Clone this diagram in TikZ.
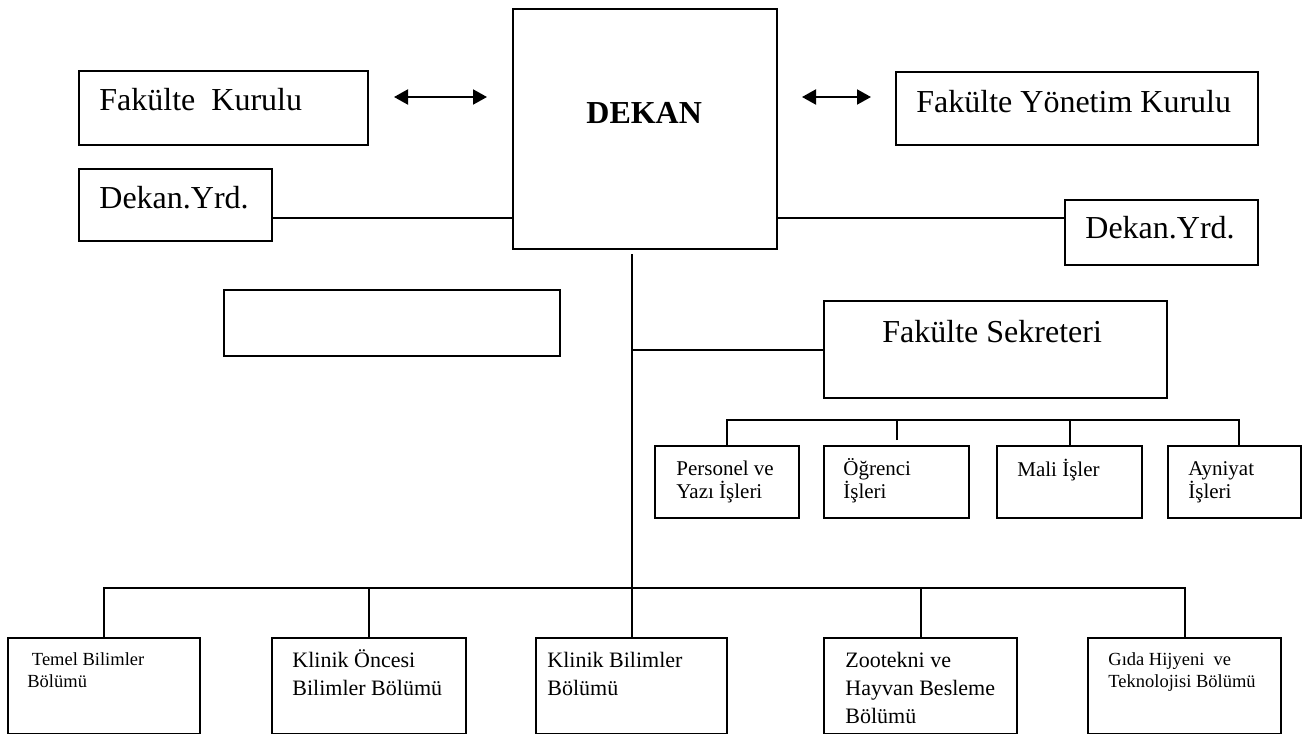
\documentclass[tikz,border=0pt]{standalone}
\usepackage{fontspec}
\setmainfont{Liberation Serif}
\usetikzlibrary{calc,positioning,arrows.meta}
\tikzset{
  kutu/.style={rectangle, draw=black, line width=1pt, anchor=north west, inner sep=0pt},
  yazi/.style={anchor=base west, inner sep=0pt, align=left},
  buyuk/.style={yazi, font=\fontsize{16}{19}\selectfont},
  orta/.style={yazi, font=\fontsize{10.5}{11.5}\selectfont},
  bolum/.style={yazi, font=\fontsize{11}{14}\selectfont},
  kucuk/.style={yazi, font=\fontsize{9.25}{10.75}\selectfont},
  hat/.style={draw, line width=1pt},
  cift/.style={draw, line width=1pt, {Triangle[length=7pt,width=7.5pt]}-{Triangle[length=7pt,width=7.5pt]}},
}

\begin{document}
\begin{tikzpicture}[x=0.5pt,y=-0.5pt]
  \useasboundingbox (0,0) rectangle (1314,734);
  % ust kisim
  \node[kutu, minimum width=132pt, minimum height=120pt] (dekan) at (512,8) {};
  \node[kutu, minimum width=144.5pt, minimum height=37pt] (fkurul) at (78,70) {};
  \node[kutu, minimum width=181pt, minimum height=36.5pt] (fyk) at (895,71) {};
  \node[kutu, minimum width=96.5pt, minimum height=36pt] (yrdsol) at (78,168) {};
  \node[kutu, minimum width=96.5pt, minimum height=32.5pt] (yrdsag) at (1064,199) {};
  \node[kutu, minimum width=168pt, minimum height=33pt] (bos) at (223,289) {};
  \node[kutu, minimum width=171.5pt, minimum height=48.5pt] (sekreter) at (823,300) {};
  \node[buyuk, font=\fontsize{16}{19}\selectfont\bfseries] (dekantxt) at (586,123) {DEKAN};
  \node[buyuk] (fkurultxt) at (99,110) {Fakülte\ \ Kurulu};
  \node[buyuk] (fyktxt) at (916,112) {Fakülte Yönetim Kurulu};
  \node[buyuk] (yrdsoltxt) at (99,208) {Dekan.Yrd.};
  \node[buyuk] (yrdsagtxt) at (1085,238) {Dekan.Yrd.};
  \node[buyuk] (sekretertxt) at (882,342) {Fakülte Sekreteri};
  % sekreterlik birimleri (base = son satir)
  \node[kutu, minimum width=72pt, minimum height=36pt] (p1) at (654,445) {};
  \node[kutu, minimum width=72.5pt, minimum height=36pt] (p2) at (823,445) {};
  \node[kutu, minimum width=72.5pt, minimum height=36pt] (p3) at (996,445) {};
  \node[kutu, minimum width=66.5pt, minimum height=36pt] (p4) at (1167,445) {};
  \node[orta] (p1txt) at (676,498) {Personel ve\\Yazı İşleri};
  \node[orta] (p2txt) at (843,498) {Öğrenci\\İşleri};
  \node[orta] (p3txt) at (1017,476) {Mali İşler};
  \node[orta] (p4txt) at (1188,498) {Ayniyat\\İşleri};
  % bolumler
  \node[kutu, minimum width=96pt, minimum height=48pt] (b1) at (7,637) {};
  \node[kutu, minimum width=97pt, minimum height=48pt] (b2) at (271,637) {};
  \node[kutu, minimum width=95.5pt, minimum height=48pt] (b3) at (535,637) {};
  \node[kutu, minimum width=96.5pt, minimum height=48pt] (b4) at (823,637) {};
  \node[kutu, minimum width=96.5pt, minimum height=48pt] (b5) at (1087,637) {};
  \node[kucuk] (b1txt) at (27,687) {\hspace*{2.3pt}Temel Bilimler\\Bölümü};
  \node[bolum] (b2txt) at (292,695) {Klinik Öncesi\\Bilimler Bölümü};
  \node[bolum] (b3txt) at (547,695) {Klinik Bilimler\\Bölümü};
  \node[bolum] (b4txt) at (845,723) {Zootekni ve\\Hayvan Besleme\\Bölümü};
  \node[kucuk] (b5txt) at (1108,687) {Gıda Hijyeni\ \ ve\\Teknolojisi Bölümü};
  % baglantilar
  \draw[cift, shorten <=12.5pt, shorten >=12.5pt] ([yshift=5.5pt]fkurul.east) -- ([yshift=5.5pt]fkurul.east -| dekan.west);
  \draw[cift, shorten <=12pt, shorten >=12pt] ([yshift=5.75pt]fyk.west -| dekan.east) -- ([yshift=5.75pt]fyk.west);
  \coordinate (yrdhat) at ([yshift=12pt]yrdsol.south east);
  \draw[hat] (yrdhat) -- (yrdhat -| dekan.west);
  \draw[hat] (yrdhat -| dekan.east) -- (yrdhat -| yrdsag.west);
  \draw[hat] ([yshift=-2pt]dekan.south -| b3.north) -- (b3.north);
  \draw[hat] (sekreter.west -| b3.north) -- (sekreter.west);
  \coordinate (bus) at ([yshift=24.5pt]b1.north);
  \draw[hat] (b1.north) -- (bus) -| (b5.north);
  \foreach \k in {b2,b4} \draw[hat] (\k.north) -- (\k.north |- bus);
  \coordinate (altbus) at ([yshift=12.5pt]p1.north);
  \draw[hat] (p1.north) -- (altbus) -| ([xshift=2pt]p4.north);
  \draw[hat] (p3.north) -- (p3.north |- altbus);
  \draw[hat, shorten <=2.5pt] (p2.north) -- (p2.north |- altbus);
\end{tikzpicture}
\end{document}
